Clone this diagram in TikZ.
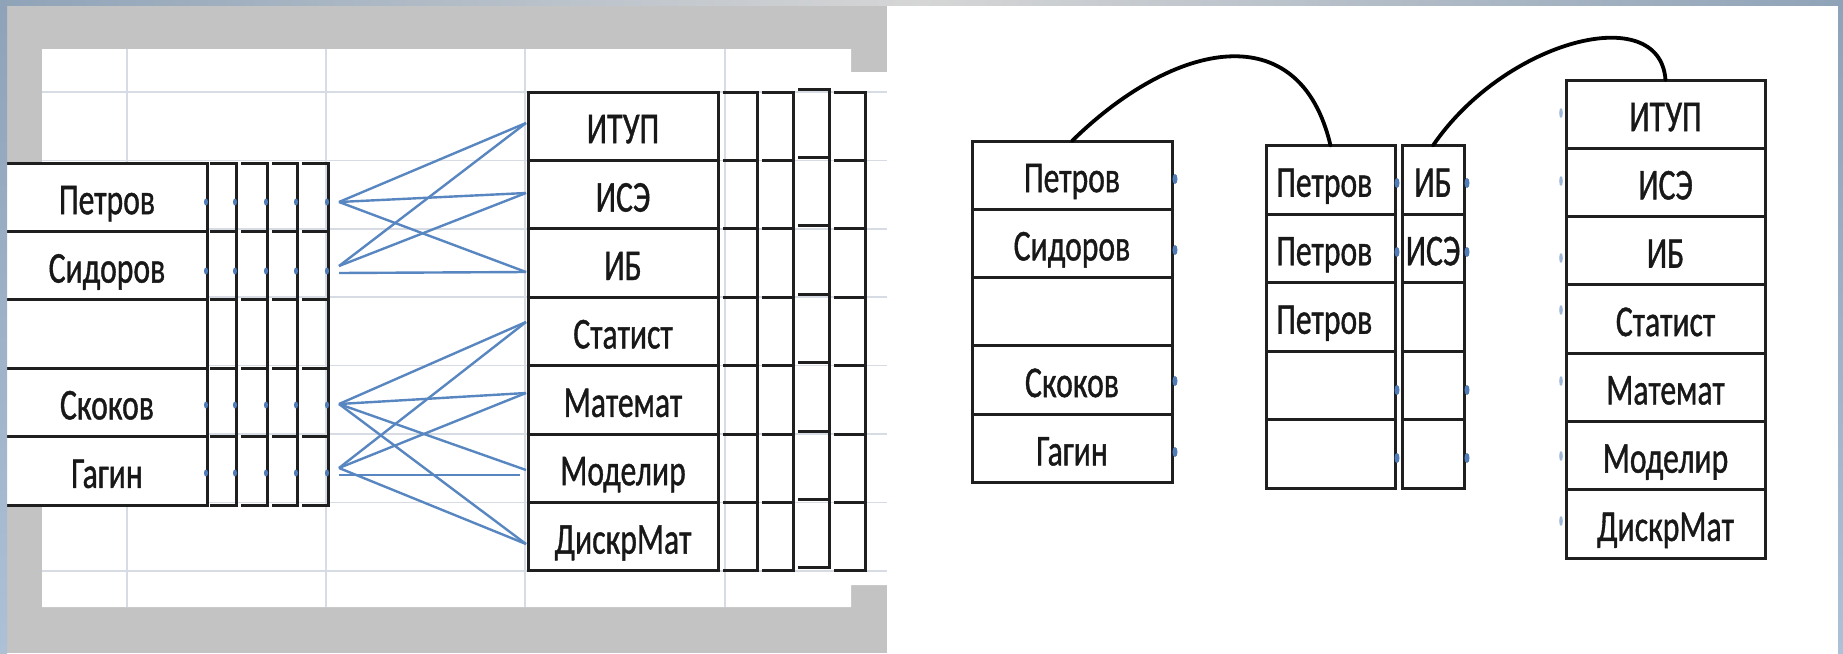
\documentclass[tikz,border=0pt]{standalone}
\usepackage{fontspec}
\setmainfont{Carlito}
\newfontfamily\cellfont{Carlito}[FakeBold=1.1]
\usepackage{graphicx}

\definecolor{panelgray}{RGB}{195,195,195}
\definecolor{edgeblue}{RGB}{143,163,184}
\definecolor{edgeblue2}{RGB}{172,193,214}
\definecolor{topgray}{RGB}{214,214,214}
\definecolor{gridc}{RGB}{214,219,228}
\definecolor{linkblue}{RGB}{88,134,192}
\definecolor{markblue}{RGB}{80,125,185}
\definecolor{ink}{RGB}{24,24,24}

\newcommand{\narrowtext}[1]{\scalebox{0.72}[1]{#1}}

\begin{document}
\begin{tikzpicture}[x=1pt,y=-1pt,
  sheetline/.style={gridc, line width=1.5pt},
  cellrule/.style={black!88, line width=3pt, line cap=rect},
  tablebox/.style={draw=black!88, line width=3pt, rectangle, fill=white,
                   inner sep=0pt, outer sep=0pt, anchor=north west},
  celltext/.style={font=\cellfont\fontsize{44}{44}\selectfont, text=ink, inner sep=0pt, anchor=base},
  bluelink/.style={linkblue, line width=2.4pt},
  bluedot/.style={fill=markblue},
  bendline/.style={black, line width=3.8pt, line cap=round}]

\useasboundingbox (0,0) rectangle (1843,653);
\fill[white] (0,0) rectangle (1843,653);

% grey panel with the spreadsheet sheet on it
\fill[panelgray] (0,0) rectangle (887,653);
\fill[white] (42,49) -- (851,49) -- (851,72) -- (887,72) -- (887,585)
  -- (851,585) -- (851,607) -- (42,607) -- cycle;
\foreach \y in {92,160.4,228.8,297.2,365.6,434,502.4,570.8}
  \draw[sheetline] (42,\y) -- (887,\y);
\foreach \x in {127,326,525,725}
  \draw[sheetline] (\x,49) -- (\x,607);

% ---- left sheet: students table and its columns
\node[tablebox, minimum width=204pt, minimum height=342pt] (LT) at (3,163) {};
\foreach \k in {1,2,3,4}
  \draw[cellrule] (3,{163+68.4*\k}) -- (207,{163+68.4*\k});
\foreach \a/\b in {211/236,242/267,273/297,303/328}{
  \draw[cellrule] (\b,163) -- (\b,505);
  \foreach \k in {0,...,5}
    \draw[cellrule] (\a,{163+68.4*\k}) -- (\b,{163+68.4*\k});
}
\foreach \i/\t in {1/Петров,2/Сидоров,4/Скоков,5/Гагин}
  \node[celltext] (lt\i) at (107,{163+68.4*(\i-0.5)+17}) {\narrowtext{\t}};
\foreach \x in {207,236,267,297,328}
  \foreach \y in {202,271,405,473}
    \fill[bluedot] ({\x-1},\y) ellipse [x radius=2pt, y radius=3.5pt];

% ---- left sheet: subjects table and its columns
\node[tablebox, minimum width=190pt, minimum height=478.8pt] (RT) at (528,92) {};
\foreach \k in {1,...,6}
  \draw[cellrule] (528,{92+68.4*\k}) -- (718,{92+68.4*\k});
\foreach \a/\b/\s in {724/757/0,763/793/0,799/829/-3,835/865/0}{
  \draw[cellrule] (\b,{92+\s}) -- (\b,{570.8+\s});
  \foreach \k in {0,...,7}
    \draw[cellrule] (\a,{92+\s+68.4*\k}) -- (\b,{92+\s+68.4*\k});
}
\foreach \i/\t in {1/ИТУП,2/ИСЭ,3/ИБ,4/Статист,5/Математ,6/Моделир,7/ДискрМат}
  \node[celltext] (rt\i) at (623,{92+68.4*(\i-0.5)+17}) {\narrowtext{\t}};

% ---- links between students and subjects
\coordinate (oP)  at (339,202);
\coordinate (oS)  at (339,266);
\coordinate (oSh) at (339,273);
\coordinate (oK)  at (339,404);
\coordinate (oG)  at (339,468);
\coordinate (oGh) at (339,475);
\coordinate (eITUP) at (526,123);
\coordinate (eISE)  at (526,193);
\coordinate (eIB)   at (526,272);
\coordinate (eStat) at (526,322);
\coordinate (eMat)  at (526,393);
\coordinate (eMod)  at (526,470);
\coordinate (eModh) at (520,475);
\coordinate (eDisk) at (526,544);
\foreach \o/\e in {oP/eITUP,oP/eISE,oP/eIB,oS/eITUP,oS/eISE,oSh/eIB,
                   oK/eStat,oK/eMat,oK/eMod,oK/eDisk,
                   oG/eStat,oG/eMat,oG/eDisk,oGh/eModh}
  \draw[bluelink] (\o) -- (\e);

% ---- right side: students
\node[tablebox, minimum width=200pt, minimum height=341.5pt] (A) at (972,141) {};
\foreach \k in {1,2,3,4}
  \draw[cellrule] (972,{141+68.3*\k}) -- (1172,{141+68.3*\k});
\foreach \i/\t in {1/Петров,2/Сидоров,4/Скоков,5/Гагин}
  \node[celltext] (a\i) at (1072,{141+68.3*(\i-0.5)+17}) {\narrowtext{\t}};
\foreach \y in {179,250,381,452}
  \fill[bluedot] (1175,\y) ellipse [x radius=2.5pt, y radius=5pt];

% ---- right side: enrolment (student / subject)
\node[tablebox, minimum width=129pt, minimum height=342.5pt] (B) at (1266,145.5) {};
\node[tablebox, minimum width=62pt, minimum height=342.5pt] (C) at (1402,145.5) {};
\foreach \k in {1,2,3,4}{
  \draw[cellrule] (1266,{145.5+68.5*\k}) -- (1395,{145.5+68.5*\k});
  \draw[cellrule] (1402,{145.5+68.5*\k}) -- (1464,{145.5+68.5*\k});
}
\foreach \i in {1,2,3}
  \node[celltext, anchor=base west] (b\i) at (1276,{145.5+68.5*(\i-0.5)+17}) {\narrowtext{Петров}};
\foreach \i/\t in {1/ИБ,2/ИСЭ}
  \node[celltext] (c\i) at (1433,{145.5+68.5*(\i-0.5)+17}) {\narrowtext{\t}};
\foreach \x in {1397,1467}
  \foreach \y in {183,252,390,458}
    \fill[bluedot] (\x,\y) ellipse [x radius=2.5pt, y radius=5pt];

% ---- right side: subjects
\node[tablebox, minimum width=199pt, minimum height=478.1pt] (D) at (1566,80) {};
\foreach \k in {1,...,6}
  \draw[cellrule] (1566,{80+68.3*\k}) -- (1765,{80+68.3*\k});
\foreach \i/\t in {1/ИТУП,2/ИСЭ,3/ИБ,4/Статист,5/Математ,6/Моделир,7/ДискрМат}
  \node[celltext] (d\i) at (1665.5,{80+68.3*(\i-0.5)+17}) {\narrowtext{\t}};
\foreach \y in {113,181,258,310,381,456,521}
  \fill[markblue!55] (1561,\y) ellipse [x radius=1.8pt, y radius=5pt];

% ---- relationship arcs
\draw[bendline] (A.north) .. controls (1175,40) and (1300,15) .. (B.north);
\draw[bendline] (C.north) .. controls (1505,40) and (1660,0) .. (D.north);

% ---- slide frame edges
\shade[top color=edgeblue, bottom color=edgeblue2] (0,0) rectangle (7,653);
\shade[left color=edgeblue, right color=edgeblue, middle color=topgray] (0,0) rectangle (1843,5);
\shade[top color=edgeblue, bottom color=edgeblue2] (1838,0) rectangle (1843,653);
\end{tikzpicture}
\end{document}
